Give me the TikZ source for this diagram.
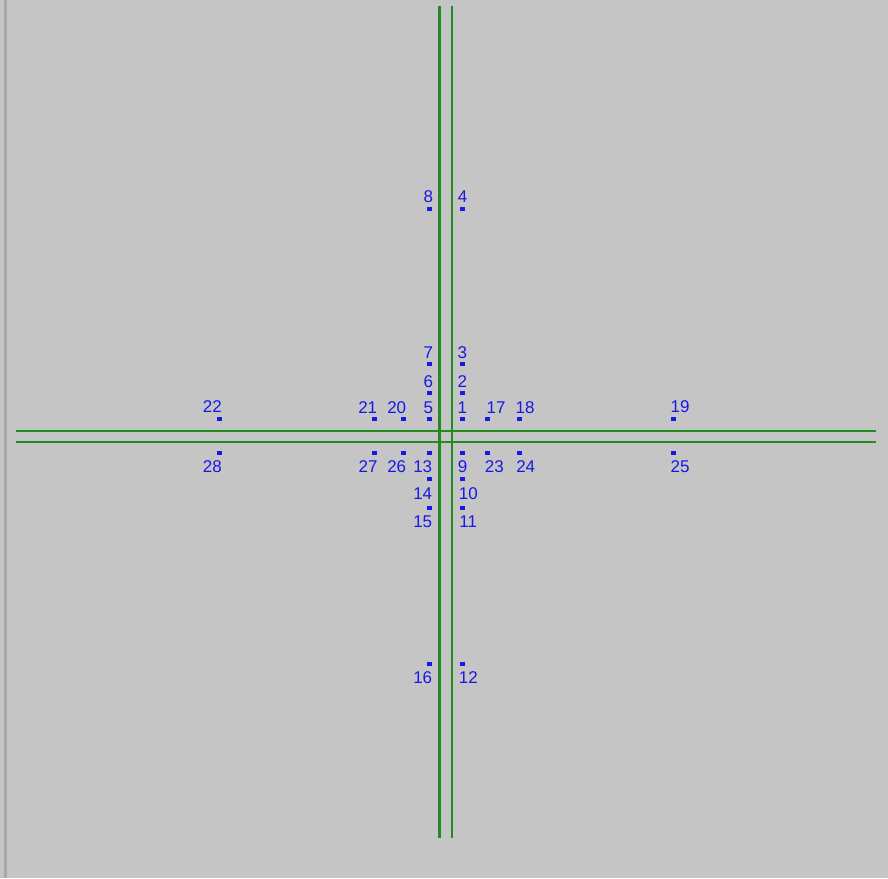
\documentclass[tikz,border=0pt]{standalone}
\usepackage{fontspec}
\setmainfont{Liberation Sans}
\usetikzlibrary{positioning}
\definecolor{bgcolor}{HTML}{C5C5C5}
\definecolor{edgecolor}{HTML}{A9A9A9}
\definecolor{roadcolor}{HTML}{228B22}
\definecolor{ptcolor}{HTML}{1818E8}

\begin{document}
\begin{tikzpicture}[x=1pt, y=-1pt,
    road/.style={draw=roadcolor, line width=2.1pt},
    pt/.style={rectangle, fill=ptcolor, inner sep=0pt, minimum width=5pt, minimum height=3.8pt},
    num/.style={text=ptcolor, inner sep=0pt, font=\fontsize{17}{17}\selectfont},
  ]
    \useasboundingbox (0,0) rectangle (888,878);
    \fill[bgcolor] (0,0) rectangle (888,878);
    \draw[edgecolor, line width=2.2pt] (5.5,0) -- (5.5,878);

    % road axes
    \coordinate (vl top) at (439.5,6);   \coordinate (vl bot) at (439.5,838);
    \coordinate (vr top) at (452.3,6);   \coordinate (vr bot) at (452.3,838);
    \coordinate (ht left) at (16,430.8); \coordinate (ht right) at (876,430.8);
    \coordinate (hb left) at (16,441.8); \coordinate (hb right) at (876,441.8);
    \draw[road] (vl top) -- (vl bot);
    \draw[road] (vr top) -- (vr bot);
    \draw[road] (ht left) -- (ht right);
    \draw[road] (hb left) -- (hb right);

    % detector points and their numbers
    \foreach \n/\px/\py/\lx/\ly in {
        1/462/419.3/462.4/407.7, 2/462/393.3/462.4/381.7, 3/462/364.3/462.4/352.7,
        4/462/209.3/462.7/196.7, 5/429/419.3/428.3/407.7, 6/429/393.3/428.3/381.7,
        7/429/364.3/428.3/352.7, 8/429.3/209.3/428.3/196.7, 9/462/453.3/462.7/466.7,
        10/462/479/468.3/493.3, 11/462/508.3/468.3/521.7, 12/462/664/468.3/677.3,
        13/429/453.3/422.7/466.7, 14/429/479/422.7/493.3, 15/429/508.3/422.7/521.7,
        16/429.3/664/422.7/677.3, 17/487.7/419.3/496/407.7, 18/519/419.3/525/407.7,
        19/673.3/419.3/680/406.7, 20/403.3/419.3/396.7/407.7, 21/374.3/419.3/367.7/407.7,
        22/219/419.3/212.3/406.7, 23/487.7/453.3/494.3/466.7, 24/519/453.3/525.7/466.7,
        25/673.3/453/680/466.7, 26/403.3/453.3/396.7/466.7, 27/374.3/453.3/368/466.7,
        28/219/452.7/212.3/466.7}
    {
      \node[pt] (p\n) at (\px,\py) {};
      \node[num] (n\n) at (\lx,\ly) {\n};
    }
  \end{tikzpicture}
\end{document}
